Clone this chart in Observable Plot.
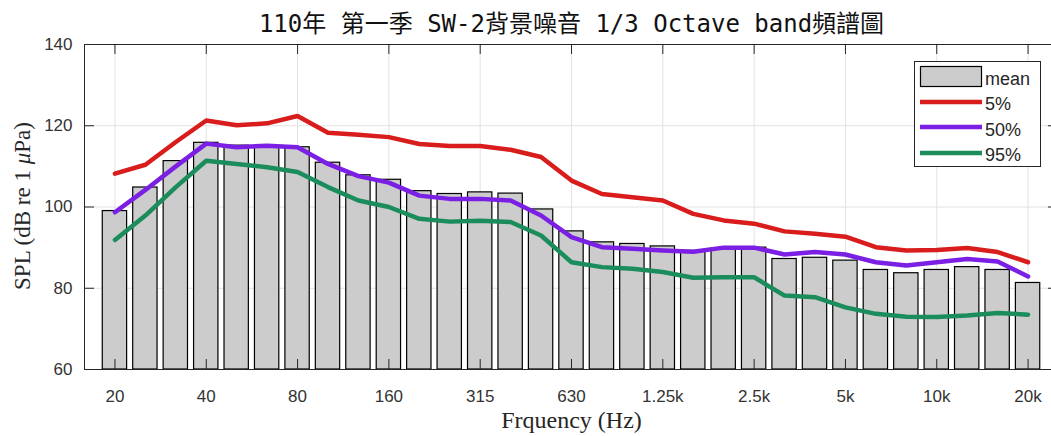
<!DOCTYPE html>
<html>
<head>
<meta charset="utf-8">
<script src="https://cdn.jsdelivr.net/npm/d3@7"></script>
<script src="https://cdn.jsdelivr.net/npm/@observablehq/plot@0.6"></script>
<style>
  html, body { margin: 0; padding: 0; background: #fff; }
  #wrap { width: 1051px; height: 436px; overflow: hidden; position: relative; }
</style>
</head>
<body>
<div id="wrap"></div>
<script>
// ---- data ----
const bands = ["20","25","31.5","40","50","63","80","100","125","160","200","250","315","400","500","630","800","1k","1.25k","1.6k","2k","2.5k","3.15k","4k","5k","6.3k","8k","10k","12.5k","16k","20k"];
const meanSPL = [99.0,104.8,111.3,115.8,115.1,115.0,114.7,110.9,107.8,106.7,103.9,103.2,103.6,103.3,99.4,94.0,91.3,90.9,90.3,89.2,89.8,90.0,87.2,87.5,86.8,84.5,83.7,84.5,85.2,84.5,81.3];
const p5  = [108.2,110.4,116.0,121.3,120.1,120.6,122.4,118.3,117.8,117.2,115.5,115.0,115.0,114.1,112.3,106.5,103.2,102.4,101.6,98.3,96.7,95.9,94.0,93.4,92.7,90.1,89.3,89.4,89.9,88.9,86.4];
const p50 = [98.7,104.2,110.0,115.6,114.7,115.1,114.7,110.6,107.6,106.0,102.8,102.0,102.0,101.6,97.9,92.6,90.1,89.7,89.3,89.0,90.0,90.0,88.3,88.9,88.3,86.4,85.6,86.4,87.2,86.6,82.9];
const p95 = [91.9,97.9,104.9,111.4,110.6,109.8,108.6,104.9,101.6,100.0,97.1,96.4,96.6,96.3,93.0,86.4,85.2,84.8,84.0,82.6,82.7,82.7,78.2,77.8,75.3,73.7,73.0,72.9,73.3,73.9,73.5];
const xTickIdx = [1,4,7,10,13,16,19,22,25,28,31];
const yTicks = [60,80,100,120,140];
const seriesNames = ["mean","5%","50%","95%"];
const titleText = "110年 第一季 SW-2背景噪音 1/3 Octave band頻譜圖";
const xLabel = "Frquency (Hz)";

const colors = {p5: "#d91c1c", p50: "#7a1fe3", p95: "#1b8c5c"};
const rows = bands.map((b, i) => ({i: i + 1, band: b, mean: meanSPL[i], p5: p5[i], p50: p50[i], p95: p95[i]}));

const axisColor = "#262626";
const sans = "'Liberation Sans', Arial, Helvetica, sans-serif";
const serif = "'Liberation Serif', 'Times New Roman', serif";

const chart = Plot.plot({
  width: 1051,
  height: 436,
  marginLeft: 84,
  marginRight: -7,
  marginTop: 44,
  marginBottom: 67,
  x: {type: "linear", domain: [0, 32]},
  y: {domain: [60, 140]},
  marks: [
    Plot.ruleY([80, 100, 120], {y: d => d, stroke: "#e2e2e2", strokeWidth: 1}),
    Plot.ruleX(xTickIdx, {x: d => d, stroke: "#e2e2e2", strokeWidth: 1}),
    Plot.rectY(rows, {x1: d => d.i - 0.4, x2: d => d.i + 0.4, y1: 60, y2: "mean", fill: "#cccccc", stroke: "#000", strokeWidth: 1.2}),
    Plot.line(rows, {x: "i", y: "p5", stroke: colors.p5, strokeWidth: 4.5, strokeLinejoin: "round"}),
    Plot.line(rows, {x: "i", y: "p50", stroke: colors.p50, strokeWidth: 4.5, strokeLinejoin: "round"}),
    Plot.line(rows, {x: "i", y: "p95", stroke: colors.p95, strokeWidth: 4.5, strokeLinejoin: "round"}),
    Plot.ruleX(xTickIdx, {x: d => d, y1: 60, y2: 62.46, stroke: axisColor}),
    Plot.ruleX(xTickIdx, {x: d => d, y1: 140, y2: 137.54, stroke: axisColor}),
    Plot.ruleY(yTicks, {y: d => d, x1: 0, x2: 0.33, stroke: axisColor}),
    Plot.ruleY(yTicks, {y: d => d, x1: 32, x2: 31.67, stroke: axisColor}),
    Plot.frame({stroke: axisColor, strokeWidth: 1}),
    Plot.axisX({ticks: xTickIdx, tickFormat: i => bands[i - 1], tickSize: 0, tickPadding: 20, fontSize: 17, fontFamily: sans, fill: "#333", label: null}),
    Plot.axisY({ticks: yTicks, tickSize: 0, tickPadding: 12, fontSize: 17, fontFamily: sans, fill: "#333", label: null}),
    Plot.text([titleText], {frameAnchor: "top", lineAnchor: "bottom", dy: -13, fontSize: 24, fontFamily: "'DejaVu Sans Mono', 'Noto Sans CJK TC', monospace", fill: "#111"}),
    Plot.text([xLabel], {frameAnchor: "bottom", lineAnchor: "bottom", dy: 58, fontSize: 24, fontFamily: serif, fill: "#262626"})
  ]
});

const svg = d3.select(chart);
svg.style("overflow", "hidden");

// y label with italic mu
const yl = svg.append("text")
  .attr("transform", "translate(30,206) rotate(-90)")
  .attr("text-anchor", "middle")
  .attr("font-family", serif)
  .attr("font-size", 23)
  .attr("fill", "#262626");
yl.append("tspan").text("SPL (dB re 1 ");
yl.append("tspan").attr("font-style", "italic").text("μ");
yl.append("tspan").text("Pa)");

// legend
const lg = svg.append("g").attr("font-family", sans).attr("font-size", 18).attr("fill", "#262626").attr("text-anchor", "start");
lg.append("rect").attr("x", 914.5).attr("y", 61.5).attr("width", 126).attr("height", 105).attr("fill", "#fff").attr("stroke", axisColor);
lg.append("rect").attr("x", 920.5).attr("y", 66.5).attr("width", 61).attr("height", 20).attr("fill", "#cccccc").attr("stroke", "#000").attr("stroke-width", 1.2);
const legendLines = [[colors.p5, 102], [colors.p50, 127], [colors.p95, 153]];
legendLines.forEach(([c, y]) => {
  lg.append("line").attr("x1", 920).attr("x2", 982).attr("y1", y).attr("y2", y).attr("stroke", c).attr("stroke-width", 4.5);
});
const legendY = [85, 110, 136, 161];
seriesNames.forEach((n, k) => {
  lg.append("text").attr("x", 985).attr("y", legendY[k]).attr("text-anchor", "start").text(n);
});

document.getElementById("wrap").appendChild(chart);
</script>
</body>
</html>
